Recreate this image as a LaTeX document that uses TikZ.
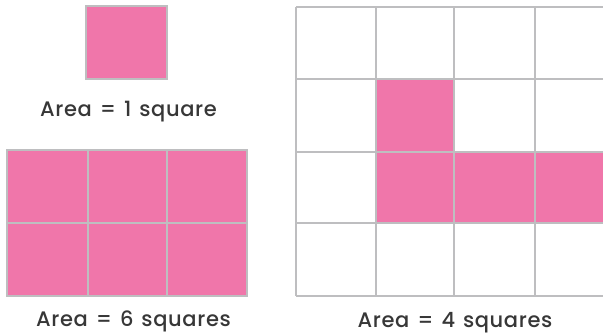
\documentclass[tikz,border=0pt]{standalone}
\usepackage{fontspec}
\setmainfont{Poppins}[UprightFont=* Medium,LetterSpace=3,WordSpace=1.3]
\definecolor{pinkfill}{RGB}{240,118,170}
\definecolor{gridgray}{RGB}{190,190,192}
\definecolor{textgray}{RGB}{55,55,55}
\begin{document}
\begin{tikzpicture}[x=1pt,y=-1pt,
  cellline/.style={draw=gridgray,line width=1.6pt},
  pinkcell/.style={fill=pinkfill},
  caption/.style={text=textgray,font=\fontsize{21}{24}\selectfont,inner sep=0pt,anchor=base}]
\useasboundingbox (0,0) rectangle (603,335);
% single square
\fill[pinkcell] (86,6) rectangle (167,79);
\draw[cellline] (86,6) rectangle (167,79);
\node[caption] (cap1) at (128.5,116) {Area = 1 square};
% 3x2 rectangle
\fill[pinkcell] (7,150) rectangle (247,296);
\draw[cellline] (7,150) rectangle (247,296);
\draw[cellline] (88,150) -- (88,296) (167,150) -- (167,296) (7,223) -- (247,223);
\node[caption] (cap6) at (133.5,326) {Area = 6 squares};
% big grid (cut at right edge)
\begin{scope}
\clip (0,0) rectangle (603,335);
\fill[pinkcell] (376,79) rectangle (454,152);
\fill[pinkcell] (376,152) rectangle (620,223);
\draw[cellline] (296,7) -- (620,7) (296,79) -- (620,79) (296,152) -- (620,152)
  (296,223) -- (620,223) (296,296) -- (620,296);
\draw[cellline] (296,7) -- (296,296) (376,7) -- (376,296) (454,7) -- (454,296)
  (535,7) -- (535,296);
\end{scope}
\node[caption] (cap4) at (455,327) {Area = 4 squares};
\end{tikzpicture}
\end{document}
